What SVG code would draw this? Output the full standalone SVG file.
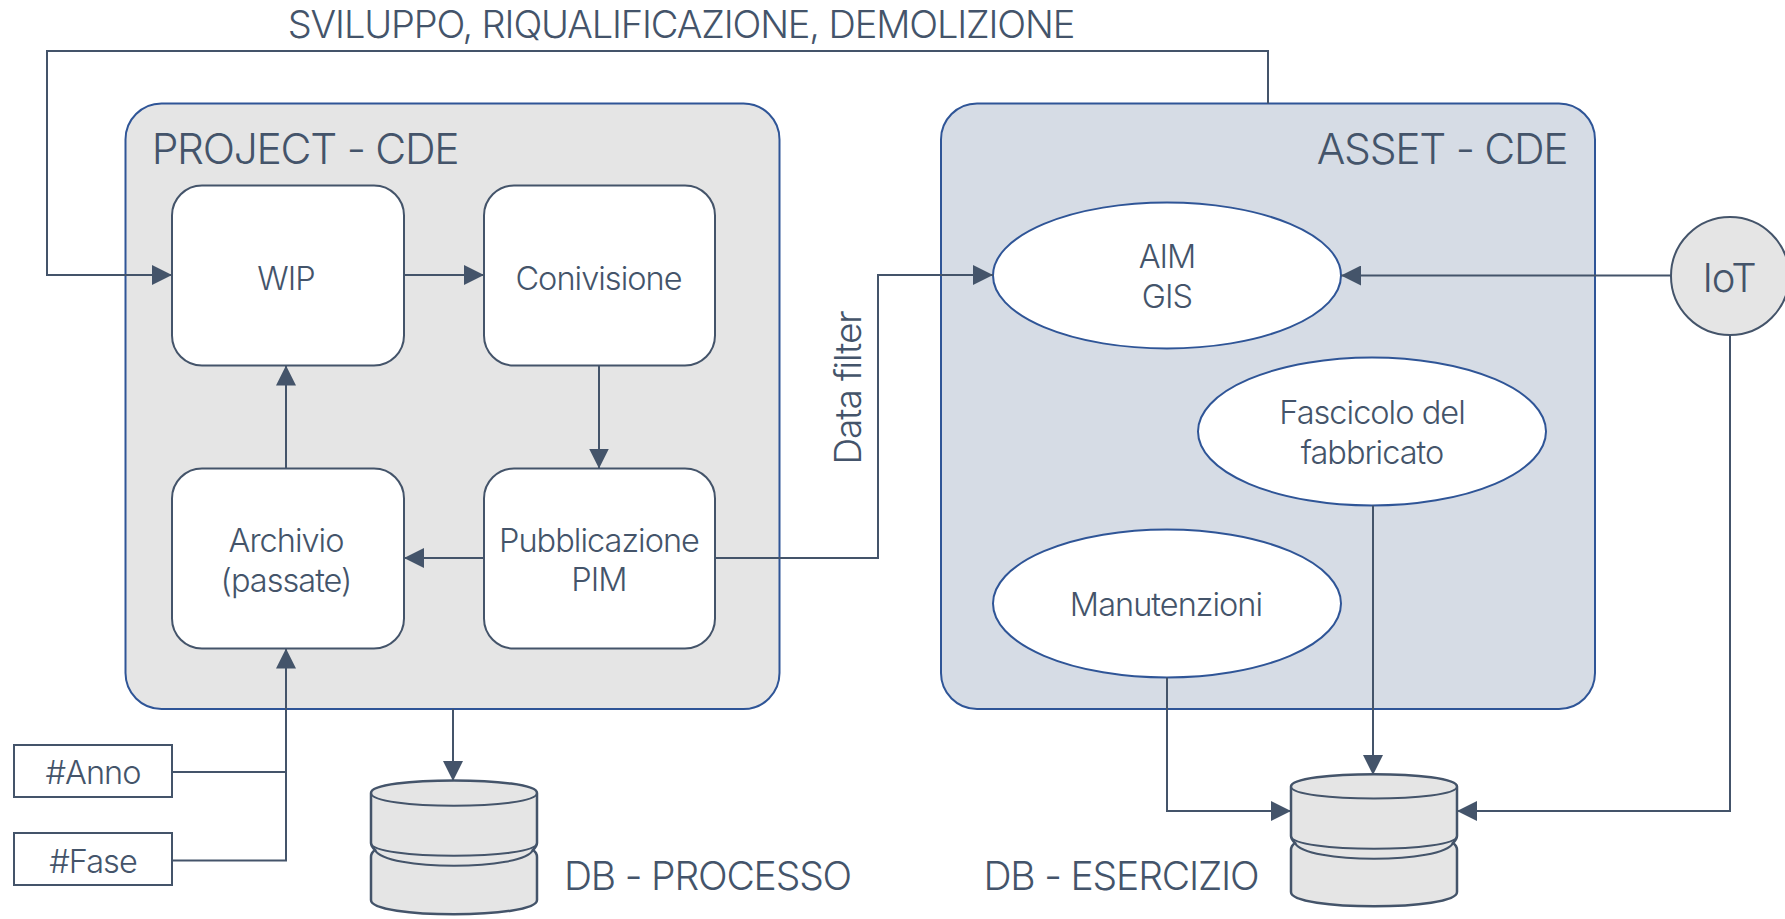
<svg xmlns="http://www.w3.org/2000/svg" width="1785" height="919" viewBox="0 0 1785 919">
<style>
text{font-family:"Inter","Liberation Sans",sans-serif;font-weight:300;fill:#44546a;font-size:32.500px;text-anchor:middle;letter-spacing:-0.03em}
.big{font-size:38px}
.hd{font-size:42.500px}
.db-t{font-size:39px}
.frame{stroke:#2f5597;stroke-width:2}
.n{fill:#fff;stroke:#44546a;stroke-width:2}
.e{fill:#fff;stroke:#2f5597;stroke-width:2}
.db{fill:#e5e5e5;stroke:#44546a;stroke-width:2.5}
.c{fill:none;stroke:#44546a;stroke-width:2;marker-end:url(#a)}
.p{fill:none;stroke:#44546a;stroke-width:2}
</style>
<defs>
<marker id="a" markerUnits="userSpaceOnUse" viewBox="0 0 20 20" refX="20" refY="10" markerWidth="20" markerHeight="20" orient="auto"><path d="M0 0L20 10L0 20Z" fill="#44546a"/></marker>
</defs>
<rect id="bg" width="1785" height="919" fill="#fff"/>
<g id="project-cde"><rect class="frame" x="125.500" y="103.500" width="654" height="605.500" rx="36" fill="#e5e5e5"/><text class="hd" x="305" y="164">PROJECT - CDE</text></g>
<g id="asset-cde"><rect class="frame" x="941" y="103.500" width="654" height="605.500" rx="36" fill="#d6dce5"/><text class="hd" x="1442" y="164">ASSET - CDE</text></g>
<g id="wip"><rect class="n" x="172" y="185.500" width="232" height="180" rx="30"/><text x="286" y="290">WIP</text></g>
<g id="condivisione"><rect class="n" x="484" y="185.500" width="231" height="180" rx="30"/><text x="598.500" y="290">Conivisione</text></g>
<g id="pubblicazione"><rect class="n" x="484" y="468.500" width="231" height="180" rx="30"/><text x="599" y="552">Pubblicazione</text><text x="599" y="591">PIM</text></g>
<g id="archivio"><rect class="n" x="172" y="468.500" width="232" height="180" rx="30"/><text x="286" y="552">Archivio</text><text x="286" y="592">(passate)</text></g>
<g id="aim"><ellipse class="e" cx="1167" cy="275.500" rx="174" ry="73"/><text x="1167" y="268">AIM</text><text x="1167" y="308">GIS</text></g>
<g id="fascicolo"><ellipse class="e" cx="1372" cy="431.500" rx="174" ry="74"/><text x="1372" y="424">Fascicolo del</text><text x="1372" y="464">fabbricato</text></g>
<g id="manutenzioni"><ellipse class="e" cx="1167" cy="603.500" rx="174" ry="74"/><text x="1166" y="616">Manutenzioni</text></g>
<g id="iot"><circle cx="1730" cy="276" r="59" fill="#e5e5e5" stroke="#44546a" stroke-width="2"/><text x="1729" y="292" style="font-size:40px">IoT</text></g>
<g id="anno"><rect class="n" x="14" y="745" width="158" height="52"/><text x="93" y="784">#Anno</text></g>
<g id="fase"><rect class="n" x="14" y="833" width="158" height="52"/><text x="93" y="873">#Fase</text></g>
<g id="db-processo"><path class="db" d="M371 793C371 776.300 537 776.300 537 793V843C537 846 535 848 533 850C536 852 537 854 537 857V900C537 919 371 919 371 900V857C371 854 372 852 375 850C373 848 371 846 371 843Z"/><path class="p" d="M371 793C371 810 537 810 537 793M371 843C371 860 537 860 537 843M375 850C385 871 523 871 533 850"/><text class="db-t" x="707.500" y="890">DB - PROCESSO</text></g>
<g id="db-esercizio"><path class="db" d="M1291 786.500C1291 770 1457 770 1457 786.500V836C1457 839 1455 841 1453 843C1456 845 1457 847 1457 850V892C1457 911 1291 911 1291 892V850C1291 847 1292 845 1295 843C1293 841 1291 839 1291 836Z"/><path class="p" d="M1291 786.500C1291 802.500 1457 802.500 1457 786.500M1291 836C1291 853 1457 853 1457 836M1295 843C1305 864 1443 864 1453 843"/><text class="db-t" x="1121" y="890">DB - ESERCIZIO</text></g>
<g id="connectors">
<path class="c" d="M1268 103.500V51H47V275H172"/>
<path class="c" d="M404 275H484"/>
<path class="c" d="M599 365.500V468.500"/>
<path class="c" d="M484 558H404"/>
<path class="c" d="M286 468.500V365.500"/>
<path class="c" d="M715 558H878V275H993"/>
<path class="c" d="M1671 275.500H1341"/>
<path class="c" d="M1730 335V811H1457"/>
<path class="c" d="M1373 505.500V775"/>
<path class="c" d="M1167 677.500V811H1291"/>
<path class="c" d="M453 709V781"/>
<path class="c" d="M172 772H286V648.500"/>
<path class="p" d="M172 860.500H286V772"/>
</g>
<text class="big" x="681" y="38">SVILUPPO, RIQUALIFICAZIONE, DEMOLIZIONE</text>
<text x="861" y="388" transform="rotate(-90 861 388)" style="font-size:37px">Data filter</text>
</svg>
